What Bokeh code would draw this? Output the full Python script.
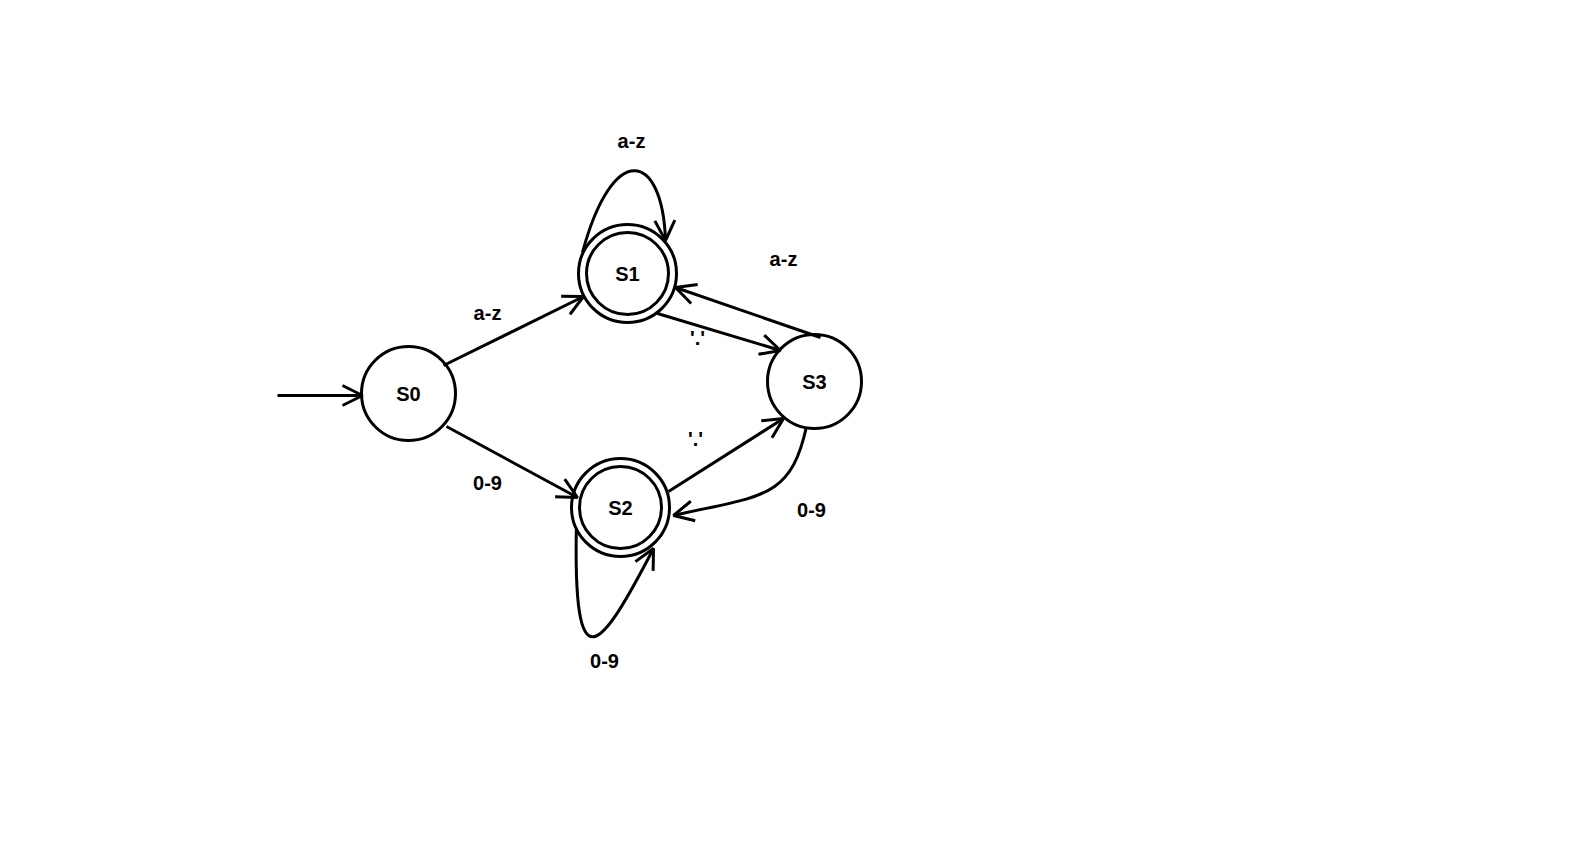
from bokeh.plotting import figure
from bokeh.models import Arrow, OpenHead, Range1d
from bokeh.core.properties import value
from bokeh.embed import file_html
from bokeh.resources import INLINE

# states: name, x, y (pixel-like coords, y down), accepting
states = ["S0", "S1", "S2", "S3"]
sx = [408, 627, 620, 814]
sy = [393, 273, 507, 381]
accepting = [False, True, True, False]

# straight transitions (start, end points)
edges = [((277, 395), (362, 395)),
         ((443, 365), (583, 296)),
         ((446, 426), (577, 497)),
         ((657, 313), (780, 350)),
         ((820, 337), (675, 287)),
         ((668, 491), (783, 418))]
# curved transitions: start, cp1, cp2, end
curves = [((582, 252), (612, 140), (662, 150), (665, 240)),
          ((576, 522), (572, 690), (600, 650), (653, 548)),
          ((806, 426), (790, 500), (760, 495), (673, 515))]

labels = ["a-z", "a-z", "a-z", "'.'", "'.'", "0-9", "0-9", "0-9"]
lx = [631, 783, 487, 697, 695, 487, 811, 604]
ly = [140, 258, 312, 337, 438, 482, 509, 660]

W, H = 1560, 826
p = figure(width=W, height=H, x_range=Range1d(0, W), y_range=Range1d(H, 0),
           output_backend="svg", toolbar_location=None, min_border=0)
p.axis.visible = False
p.grid.visible = False
p.outline_line_color = None

lw = 3
for (x0, y0), (x1, y1) in edges:
    p.add_layout(Arrow(end=OpenHead(size=20, line_width=lw), x_start=x0, y_start=y0,
                       x_end=x1, y_end=y1, line_width=lw))
for s, c1, c2, e in curves:
    p.bezier(x0=[s[0]], y0=[s[1]], cx0=[c1[0]], cy0=[c1[1]], cx1=[c2[0]], cy1=[c2[1]],
             x1=[e[0]], y1=[e[1]], line_width=lw, line_color="black")
    p.add_layout(Arrow(end=OpenHead(size=20, line_width=lw), x_start=c2[0], y_start=c2[1],
                       x_end=e[0], y_end=e[1], line_width=0, line_alpha=0))

ox = [x for x, a in zip(sx, accepting)]
p.circle(sx, sy, radius=[49 if a else 47 for a in accepting],
         fill_color="white", line_color="black", line_width=lw)
ax = [x for x, a in zip(sx, accepting) if a]
ay = [y for y, a in zip(sy, accepting) if a]
p.circle(ax, ay, radius=41, fill_color=None, line_color="black", line_width=lw)

p.text(sx, sy, text=states, text_align="center", text_baseline="middle",
       text_font=value("Liberation Sans"), text_font_style="bold", text_font_size="20px")
p.text(lx, ly, text=labels, text_align="center", text_baseline="middle",
       text_font=value("Liberation Sans"), text_font_style="bold", text_font_size="20px")

open("out.html", "w").write(file_html(p, INLINE))
